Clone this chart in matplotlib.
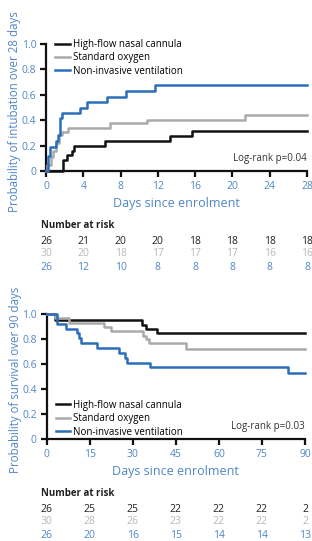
import matplotlib
matplotlib.use('Agg')
import matplotlib.pyplot as plt
from matplotlib.transforms import blended_transform_factory

plt.rcParams['font.family'] = ['Open Sans', 'DejaVu Sans']

# ------------------------------------
#   Data
# ------------------------------------
groups = ['High-flow nasal cannula', 'Standard oxygen', 'Non-invasive ventilation']

# intubation over 28 days (cumulative probability, step curves)
hfnc_int_t = [0, 1.8, 2.2, 2.8, 3.05, 6.35, 13.3, 15.7, 28]
hfnc_int_p = [0, 0.085, 0.125, 0.16, 0.20, 0.237, 0.276, 0.316, 0.316]
std_int_t = [0, 0.15, 0.5, 0.8, 1.1, 1.4, 1.7, 2.4, 6.9, 10.8, 21.4, 28]
std_int_p = [0, 0.05, 0.11, 0.16, 0.22, 0.28, 0.31, 0.335, 0.375, 0.405, 0.44, 0.44]
niv_int_t = [0, 0.2, 0.45, 1.1, 1.3, 1.45, 1.55, 1.7, 3.6, 4.4, 6.5, 8.6, 11.7, 28]
niv_int_p = [0, 0.12, 0.19, 0.24, 0.28, 0.35, 0.42, 0.46, 0.50, 0.54, 0.585, 0.63, 0.68, 0.68]

# survival over 90 days
hfnc_surv_t = [0, 2.8, 33.4, 34.8, 38.4, 90]
hfnc_surv_p = [1, 0.95, 0.91, 0.88, 0.845, 0.845]
std_surv_t = [0, 3, 8, 20, 22.5, 33.6, 34.8, 35.8, 48.5, 90]
std_surv_p = [1, 0.965, 0.93, 0.90, 0.865, 0.825, 0.80, 0.77, 0.72, 0.72]
niv_surv_t = [0, 3.5, 6.8, 10.5, 11.2, 12, 17.5, 25.1, 27.3, 28.1, 36, 84.2, 90]
niv_surv_p = [1, 0.92, 0.88, 0.846, 0.81, 0.77, 0.73, 0.69, 0.65, 0.61, 0.576, 0.53, 0.53]

# number at risk
ticks_28 = [0, 4, 8, 12, 16, 20, 24, 28]
risk_hfnc_28 = [26, 21, 20, 20, 18, 18, 18, 18]
risk_std_28 = [30, 20, 18, 17, 17, 17, 16, 16]
risk_niv_28 = [26, 12, 10, 8, 8, 8, 8, 8]

ticks_90 = [0, 15, 30, 45, 60, 75, 90]
risk_hfnc_90 = [26, 25, 25, 22, 22, 22, 2]
risk_std_90 = [30, 28, 26, 23, 22, 22, 2]
risk_niv_90 = [26, 20, 16, 15, 14, 14, 13]

# ------------------------------------
#   Style
# ------------------------------------
c_black = '#111111'
c_gray = '#aaaaaa'
c_blue = '#2a6ebb'
c_text_blue = '#4f86c6'
c_risk_gray = '#b8b8b8'
line_colors = [c_black, c_gray, c_blue]
risk_colors = ['#222222', c_risk_gray, c_text_blue]

W, H = 312, 541
fig = plt.figure(figsize=(W / 100, H / 100), dpi=100)


def px_axes(x0, x1, y0, y1):
    """axes from pixel box (top-left origin)"""
    return fig.add_axes([x0 / W, 1 - y1 / H, (x1 - x0) / W, (y1 - y0) / H])


def style_axes(ax, xticks, xmax, ylabel):
    ax.set_xlim(0, xmax)
    ax.set_ylim(0, 1.0)
    ax.set_xticks(xticks)
    ax.set_yticks([0, 0.2, 0.4, 0.6, 0.8, 1.0])
    ax.set_yticklabels(['0', '0.2', '0.4', '0.6', '0.8', '1.0'])
    for s in ['top', 'right']:
        ax.spines[s].set_visible(False)
    for s in ['left', 'bottom']:
        ax.spines[s].set_linewidth(1.6)
        ax.spines[s].set_color(c_black)
    ax.tick_params(direction='out', length=4, width=1.6, color=c_black,
                   labelcolor=c_text_blue, labelsize=7.5, pad=3)
    ax.set_xlabel('Days since enrolment', color=c_text_blue, fontsize=9, labelpad=4)
    ax.set_ylabel(ylabel, color=c_text_blue, fontsize=8.3, labelpad=4)
    ax.yaxis.set_label_coords(-0.095, 0.47)
    ax.patch.set_alpha(0)


def risk_table(ax, ticks, rows, y_head, y_rows):
    tr = blended_transform_factory(ax.transData, fig.transFigure)
    fig.text(41 / W, 1 - y_head / H, 'Number at risk', fontsize=7, fontweight='bold',
             color='#222222', va='center', ha='left')
    for vals, col, yy in zip(rows, risk_colors, y_rows):
        for t, v in zip(ticks, vals):
            ax.text(t, 1 - yy / H, str(v), transform=tr, ha='center', va='center',
                    fontsize=7.5, color=col, clip_on=False)


# ------------------------------------
#   Intubation
# ------------------------------------
ax1 = px_axes(46, 307, 44, 171)
for t, p, col, lab in zip([hfnc_int_t, std_int_t, niv_int_t],
                          [hfnc_int_p, std_int_p, niv_int_p], line_colors, groups):
    ax1.step(t, p, where='post', color=col, lw=1.8, label=lab, clip_on=False, zorder=3)
style_axes(ax1, ticks_28, 28, 'Probability of intubation over 28 days')
ax1.legend(loc='upper left', bbox_to_anchor=(0.02, 1.07), frameon=False, fontsize=7,
           handlelength=1.5, handletextpad=0.3, labelspacing=0.25, borderaxespad=0)
ax1.text(1.0, 0.1, 'Log-rank p=0.04', transform=ax1.transAxes, ha='right', va='center',
         fontsize=7, color='#333333')
risk_table(ax1, ticks_28, [risk_hfnc_28, risk_std_28, risk_niv_28], 226, [241, 254, 267])

# ------------------------------------
#   Survival
# ------------------------------------
ax2 = px_axes(46.5, 305, 314, 439)
for t, p, col, lab in zip([hfnc_surv_t, std_surv_t, niv_surv_t],
                          [hfnc_surv_p, std_surv_p, niv_surv_p], line_colors, groups):
    ax2.step(t, p, where='post', color=col, lw=1.8, label=lab, clip_on=False, zorder=3)
style_axes(ax2, ticks_90, 90, 'Probability of survival over 90 days')
ax2.legend(loc='lower left', bbox_to_anchor=(0.02, -0.02), frameon=False, fontsize=7,
           handlelength=1.5, handletextpad=0.3, labelspacing=0.25, borderaxespad=0)
ax2.text(1.0, 0.1, 'Log-rank p=0.03', transform=ax2.transAxes, ha='right', va='center',
         fontsize=7, color='#333333')
risk_table(ax2, ticks_90, [risk_hfnc_90, risk_std_90, risk_niv_90], 494, [509, 521, 535])

fig.savefig('out.png', dpi=100)
